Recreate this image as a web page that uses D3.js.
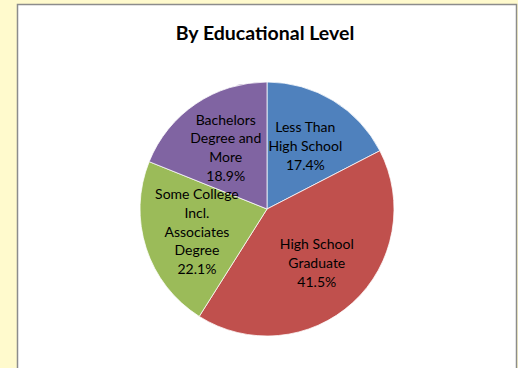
<html>
<head>
    <meta charset="utf-8" />
    <title>By Educational Level</title>
    <style>
      body {
    margin: 0;
    padding: 0;
    background: #fffacd;
}

svg {
    display: block;
}

.title {
    font-family: Lato, 'Open Sans', sans-serif;
    font-weight: bold;
    font-size: 19.5px;
    fill: #000;
}

.label {
    font-family: Lato, 'Open Sans', sans-serif;
    font-size: 14px;
    fill: #000;
}
    </style>
    <script src="https://d3js.org/d3.v7.min.js"></script>
</head>
<body>
    <script>
// slices, clockwise from 12 o'clock
var categories = ["Less Than High School", "High School Graduate", "Some College Incl. Associates Degree", "Bachelors Degree and More"];
var values = [17.4, 41.5, 22.1, 18.9];
var labelLines = [
    ["Less Than", "High School"],
    ["High School", "Graduate"],
    ["Some College", "Incl.", "Associates", "Degree"],
    ["Bachelors", "Degree and", "More"]
];
var colors = ["#4f81bd", "#c0504d", "#9bbb59", "#8064a2"];

var width = 518, height = 368;
var cx = 267, cy = 209, radius = 127;

var svg = d3.select("body").append("svg")
    .attr("width", width)
    .attr("height", height);

// chart area with grey frame
svg.append("rect")
    .attr("x", 17.5)
    .attr("y", 4.5)
    .attr("width", 499)
    .attr("height", 380)
    .attr("fill", "#fff")
    .attr("stroke", "#8c8c8c")
    .attr("stroke-width", 1.5);

svg.append("text")
    .attr("class", "title")
    .attr("x", 265)
    .attr("y", 40)
    .attr("text-anchor", "middle")
    .text("By Educational Level");

var data = categories.map(function (c, i) {
    return { name: c, value: values[i], lines: labelLines[i], color: colors[i] };
});

var pie = d3.pie()
    .sort(null)
    .value(function (d) { return d.value; });

var arc = d3.arc().innerRadius(0).outerRadius(radius);
var labelArc = d3.arc().innerRadius(radius * 0.58).outerRadius(radius * 0.58);

var g = svg.append("g").attr("transform", "translate(" + cx + "," + cy + ")");

var arcs = pie(data);

g.selectAll("path.slice")
    .data(arcs)
    .enter().append("path")
    .attr("class", "slice")
    .attr("d", arc)
    .attr("fill", function (d) { return d.data.color; })
    .attr("stroke", "#fff")
    .attr("stroke-width", 0.75);

var lineH = 18.8;

var labels = g.selectAll("text.label")
    .data(arcs)
    .enter().append("text")
    .attr("class", "label")
    .attr("text-anchor", "middle")
    .attr("transform", function (d) {
        var c = labelArc.centroid(d);
        return "translate(" + c[0] + "," + c[1] + ")";
    });

labels.each(function (d) {
    var lines = d.data.lines.concat([d.data.value.toFixed(1) + "%"]);
    var t = d3.select(this);
    var top = -(lines.length - 1) * lineH / 2;
    lines.forEach(function (l, i) {
        t.append("tspan")
            .attr("x", 0)
            .attr("y", top + i * lineH)
            .attr("dy", "0.35em")
            .text(l);
    });
});
    </script>
</body>
</html>
